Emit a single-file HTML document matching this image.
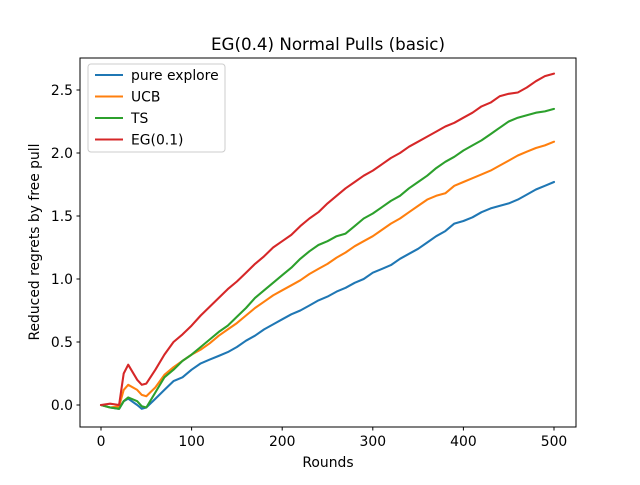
<!DOCTYPE html>
<html><head><meta charset="utf-8"><style>
body{margin:0;background:#fff;}
svg{font-family:"DejaVu Sans","Liberation Sans",sans-serif;}
</style></head><body>
<svg id="chart" width="640" height="480" viewBox="0 0 640 480">
<rect width="640" height="480" fill="#fff"/>
<text x="328" y="50" text-anchor="middle" font-size="16.7">EG(0.4) Normal Pulls (basic)</text>
<g id="grid"></g>
<g id="lines"></g>
<rect x="80" y="58" width="496" height="369" fill="none" stroke="#000" stroke-width="1"/>
<text x="328" y="467" text-anchor="middle" font-size="13.9">Rounds</text>
<text transform="translate(39,242) rotate(-90)" text-anchor="middle" font-size="13.9">Reduced regrets by free pull</text>
<g>
<rect x="88" y="64" width="137" height="88" rx="3" fill="#fff" fill-opacity="0.8" stroke="#ccc"/>
<g id="legend-entries"></g>
</g>
</svg>
<script>
const rounds=[0,10,20,25,30,40,45,50,60,70,80,90,100,110,120,130,140,150,160,170,180,190,200,210,220,230,240,250,260,270,280,290,300,310,320,330,340,350,360,370,380,390,400,410,420,430,440,450,460,470,480,490,500];
const pureExplore=[0,-0.02,-0.03,0.03,0.05,0.0,-0.03,-0.02,0.05,0.12,0.19,0.22,0.28,0.33,0.36,0.39,0.42,0.46,0.51,0.55,0.6,0.64,0.68,0.72,0.75,0.79,0.83,0.86,0.9,0.93,0.97,1.0,1.05,1.08,1.11,1.16,1.2,1.24,1.29,1.34,1.38,1.44,1.46,1.49,1.53,1.56,1.58,1.6,1.63,1.67,1.71,1.74,1.77];
const ucb=[0,-0.02,-0.01,0.12,0.16,0.12,0.08,0.07,0.14,0.24,0.3,0.35,0.4,0.44,0.49,0.55,0.6,0.65,0.71,0.77,0.82,0.87,0.91,0.95,0.99,1.04,1.08,1.12,1.17,1.21,1.26,1.3,1.34,1.39,1.44,1.48,1.53,1.58,1.63,1.66,1.68,1.74,1.77,1.8,1.83,1.86,1.9,1.94,1.98,2.01,2.04,2.06,2.09];
const ts=[0,-0.02,-0.03,0.03,0.06,0.03,-0.01,-0.02,0.1,0.22,0.28,0.35,0.4,0.46,0.52,0.58,0.63,0.7,0.77,0.85,0.91,0.97,1.03,1.09,1.16,1.22,1.27,1.3,1.34,1.36,1.42,1.48,1.52,1.57,1.62,1.66,1.72,1.77,1.82,1.88,1.93,1.97,2.02,2.06,2.1,2.15,2.2,2.25,2.28,2.3,2.32,2.33,2.35];
const eg01=[0,0.01,0.0,0.25,0.32,0.2,0.16,0.17,0.28,0.4,0.5,0.56,0.63,0.71,0.78,0.85,0.92,0.98,1.05,1.12,1.18,1.25,1.3,1.35,1.42,1.48,1.53,1.6,1.66,1.72,1.77,1.82,1.86,1.91,1.96,2.0,2.05,2.09,2.13,2.17,2.21,2.24,2.28,2.32,2.37,2.4,2.45,2.47,2.48,2.52,2.57,2.61,2.63];
const seriesNames=["pure explore","UCB","TS","EG(0.1)"];
const xTicks=[0,100,200,300,400,500];
const yTicks=[0,0.5,1.0,1.5,2.0,2.5];
const yTickLabels=["0.0","0.5","1.0","1.5","2.0","2.5"];

const colors=["#1f77b4","#ff7f0e","#2ca02c","#d62728"];
const allSeries=[pureExplore,ucb,ts,eg01];
const xS=v=>101+v*(453/500);
const yS=v=>405-v*126;
const NS="http://www.w3.org/2000/svg";
const svg=document.getElementById('chart');
const grid=document.getElementById('grid');
function mk(t,a,p){const e=document.createElementNS(NS,t);for(const k in a)e.setAttribute(k,a[k]);(p||svg).appendChild(e);return e;}
xTicks.forEach(t=>{
  const l=mk('line',{x1:xS(t),x2:xS(t),y1:427,y2:430.5,stroke:'#000'},grid);
  
  
  const tx=mk('text',{x:xS(t),y:446,'text-anchor':'middle','font-size':13.9},grid);
  tx.textContent=t;
  
  
});
yTicks.forEach((t,i)=>{
  const l=mk('line',{x1:76.5,x2:80,y1:yS(t),y2:yS(t),stroke:'#000'},grid);
  
  
  const tx=mk('text',{x:73,y:yS(t)+5,'text-anchor':'end','font-size':13.9},grid);
  tx.textContent=yTickLabels[i];
  
  
});
const lines=document.getElementById('lines');
allSeries.forEach((s,i)=>{
  const d=s.map((v,j)=>(j?'L':'M')+xS(rounds[j]).toFixed(1)+','+yS(v).toFixed(1)).join('');
  const p=mk('path',{d:d,fill:'none',stroke:colors[i],'stroke-width':2.08,'stroke-linejoin':'round','stroke-linecap':'round'},lines);
  
  
});
const leg=document.getElementById('legend-entries');
seriesNames.forEach((n,i)=>{
  const y=75+i*21.5;
  const g=mk('g',{},leg);
  
  
  mk('line',{x1:95,x2:123,y1:y,y2:y,stroke:colors[i],'stroke-width':2.08},g);
  const t=mk('text',{x:131,y:y+5,'font-size':13.9},g);
  t.textContent=n;
});
</script>
</body></html>
